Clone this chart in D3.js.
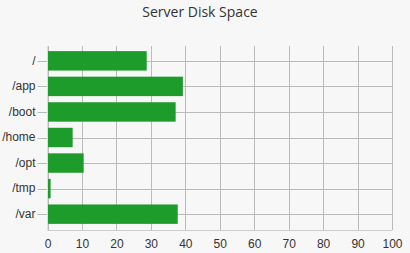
<!DOCTYPE html>
<html>
<head>
<meta charset="utf-8">
<script src="https://cdn.jsdelivr.net/npm/d3@7"></script>
<style>
  body { margin: 0; background: #f7f7f7; }
  svg { display: block; }
  .tick text { font-family: "Liberation Sans", Arial, sans-serif; font-size: 12px; fill: #333; }
</style>
</head>
<body>
<script>
// Chart size
const width = 410;
const height = 253;

// Data
const mounts = ["/", "/app", "/boot", "/home", "/opt", "/tmp", "/var"];
const usedValues = [28.8, 39.3, 37.2, 7.3, 10.5, 0.9, 37.8];
const xTicks = [0, 10, 20, 30, 40, 50, 60, 70, 80, 90, 100];

const margin = { top: 45, right: 18, bottom: 23, left: 47.5 };

const svg = d3.select("body")
  .append("svg")
  .attr("width", width)
  .attr("height", height);

svg.append("rect")
  .attr("width", width)
  .attr("height", height)
  .attr("fill", "#f7f7f7");

// Title
svg.append("text")
  .attr("x", 200)
  .attr("y", 17)
  .attr("text-anchor", "middle")
  .style("font-family", "'Open Sans', sans-serif")
  .style("font-size", "14px")
  .style("fill", "#333")
  .text("Server Disk Space");

const x = d3.scaleLinear()
  .domain([0, 100])
  .range([margin.left, width - margin.right]);

const y = d3.scaleBand()
  .domain(mounts)
  .range([margin.top, height - margin.bottom])
  .padding(0.24);

// Vertical grid
svg.append("g")
  .selectAll("line")
  .data(xTicks)
  .enter()
  .append("line")
  .attr("x1", d => Math.round(x(d)) + 0.5)
  .attr("x2", d => Math.round(x(d)) + 0.5)
  .attr("y1", 46)
  .attr("y2", height - margin.bottom)
  .attr("stroke", "#bbb");

// Horizontal grid through band centres, with outer tick on the left
svg.append("g")
  .selectAll("line")
  .data(mounts)
  .enter()
  .append("line")
  .attr("x1", margin.left - 10)
  .attr("x2", width - margin.right)
  .attr("y1", d => Math.round(y(d) + y.bandwidth() / 2) + 0.5)
  .attr("y2", d => Math.round(y(d) + y.bandwidth() / 2) + 0.5)
  .attr("stroke", "#bbb");

// Bars
svg.append("g")
  .selectAll("rect")
  .data(mounts)
  .enter()
  .append("rect")
  .attr("x", x(0))
  .attr("y", d => y(d))
  .attr("width", (d, i) => x(usedValues[i]) - x(0))
  .attr("height", y.bandwidth())
  .attr("fill", "#1e9c2b");

// Axis lines
svg.append("line")
  .attr("x1", x(0)).attr("x2", x(100))
  .attr("y1", height - margin.bottom + 0.5).attr("y2", height - margin.bottom + 0.5)
  .attr("stroke", "#ccc");
svg.append("line")
  .attr("x1", Math.round(x(0)) - 0.5).attr("x2", Math.round(x(0)) - 0.5)
  .attr("y1", 46).attr("y2", height - margin.bottom)
  .attr("stroke", "#ddd");

// X axis labels
const xAxis = d3.axisBottom(x).tickValues(xTicks).tickSize(0).tickPadding(9);
svg.append("g")
  .attr("transform", `translate(0, ${height - margin.bottom})`)
  .call(xAxis)
  .call(g => g.select(".domain").remove());

// Y axis labels
const yAxis = d3.axisLeft(y).tickSize(0).tickPadding(12);
svg.append("g")
  .attr("transform", `translate(${margin.left}, 0)`)
  .call(yAxis)
  .call(g => g.select(".domain").remove());
</script>
</body>
</html>
